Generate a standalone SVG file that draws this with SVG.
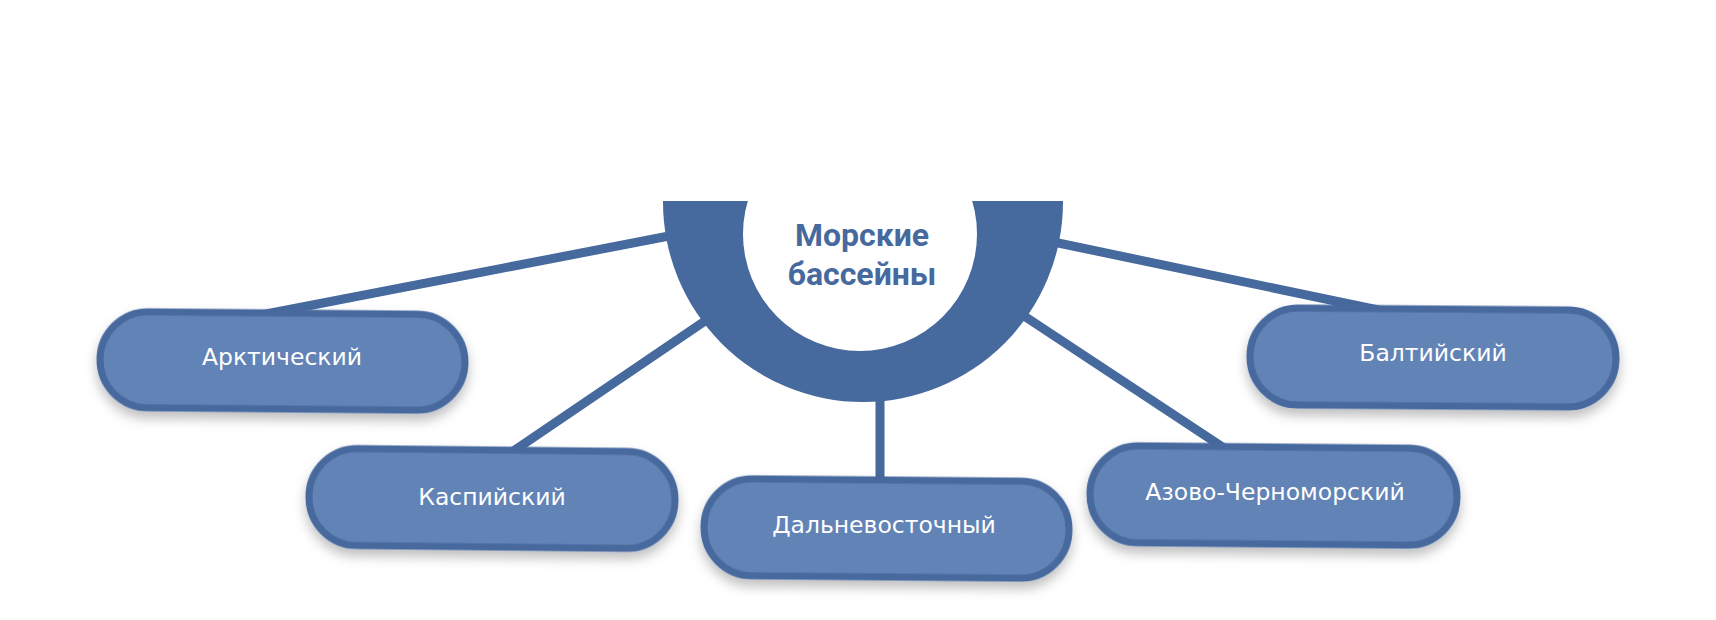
<svg xmlns="http://www.w3.org/2000/svg" width="1716" height="620" viewBox="0 0 1716 620">
<defs>
<filter id="sh" x="-20%" y="-30%" width="140%" height="170%">
<feDropShadow dx="0" dy="7" stdDeviation="6" flood-color="#000" flood-opacity="0.25"/>
</filter>
<clipPath id="top"><rect x="0" y="201" width="1716" height="419"/></clipPath>
</defs>
<style>
.pill{fill:#6283b5;stroke:#46699e;stroke-width:7}
.lbl{font-family:"DejaVu Sans",sans-serif;font-size:23.5px;fill:#ffffff;text-anchor:middle}
.con{stroke:#46699e;stroke-width:9;fill:none}
.hub{font-family:Roboto,"Liberation Sans",sans-serif;font-weight:bold;font-size:32px;fill:#46699e;text-anchor:middle}
</style>
<rect width="1716" height="620" fill="#ffffff"/>
<g id="connectors">
<line class="con" x1="700" y1="230" x2="266" y2="314"/>
<line class="con" x1="730" y1="304" x2="512" y2="452"/>
<line class="con" x1="880" y1="380" x2="880" y2="482"/>
<line class="con" x1="1020" y1="235" x2="1383" y2="311"/>
<line class="con" x1="1000" y1="300" x2="1224" y2="448"/>
</g>
<g id="hub">
<circle cx="863" cy="202" r="200" fill="#46699e" clip-path="url(#top)"/>
<circle cx="860" cy="234" r="117" fill="#ffffff"/>
<text class="hub" x="862" y="246">Морские</text>
<text class="hub" x="862" y="285">бассейны</text>
</g>
<g id="n-arctic">
<rect class="pill" x="100" y="313" width="365" height="96" rx="48" transform="rotate(0.5 282 361)" filter="url(#sh)"/>
<text class="lbl" x="282" y="365">Арктический</text>
</g>
<g id="n-caspian">
<rect class="pill" x="309" y="450" width="366" height="97" rx="48" transform="rotate(0.6 492 498)" filter="url(#sh)"/>
<text class="lbl" x="492" y="505">Каспийский</text>
</g>
<g id="n-fareast">
<rect class="pill" x="704" y="480" width="365" height="97" rx="48" transform="rotate(0.5 886 528)" filter="url(#sh)"/>
<text class="lbl" x="884" y="533">Дальневосточный</text>
</g>
<g id="n-azov">
<rect class="pill" x="1090" y="447" width="367" height="97" rx="48" transform="rotate(0.5 1273 495)" filter="url(#sh)"/>
<text class="lbl" x="1275" y="500">Азово-Черноморский</text>
</g>
<g id="n-baltic">
<rect class="pill" x="1250" y="309" width="366" height="97" rx="48" transform="rotate(0.4 1433 357)" filter="url(#sh)"/>
<text class="lbl" x="1433" y="361">Балтийский</text>
</g>
</svg>
